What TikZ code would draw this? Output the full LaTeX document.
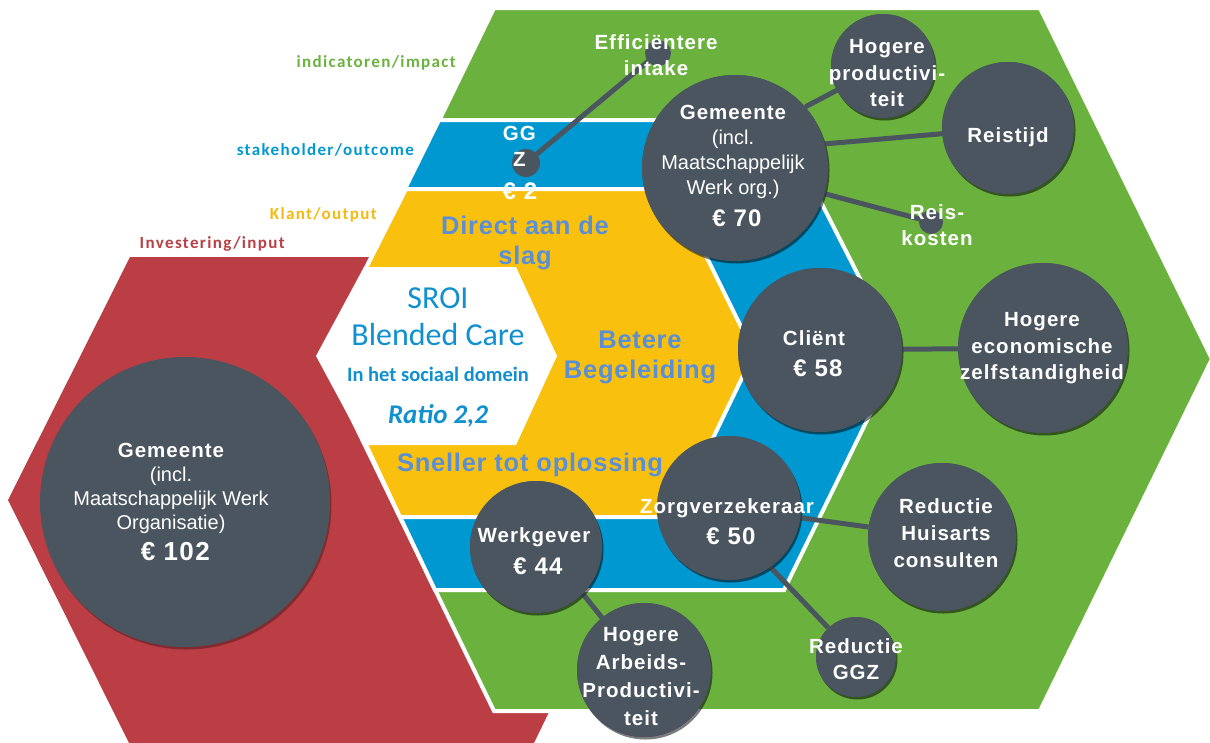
\documentclass[tikz,border=0pt]{standalone}
\usepackage{fontspec}
\setmainfont{Liberation Sans}
\usetikzlibrary{shadows}
\newfontfamily\lsr{Liberation Sans}
\newfontfamily\lsb{Liberation Sans}[LetterSpace=5]
\newfontfamily\lsm{Liberation Sans}[LetterSpace=3]
\newfontfamily\carl{Carlito}
\newfontfamily\carls{Carlito}[LetterSpace=8]
\definecolor{grn}{HTML}{6AB23D}
\definecolor{blu}{HTML}{0098D1}
\definecolor{yel}{HTML}{F9C10E}
\definecolor{yellab}{HTML}{F5B914}
\definecolor{rd}{HTML}{BA3E44}
\definecolor{slate}{HTML}{4A5560}
\definecolor{txtblue}{HTML}{5A8FD8}
\definecolor{sroiblue}{HTML}{1190D0}
\tikzset{
  layer/.style={draw=white, line width=4pt, line join=miter},
  circ/.style={circle, fill=slate, inner sep=0pt, draw=none,
    drop shadow={shadow xshift=1.5pt, shadow yshift=-2.5pt, opacity=0.3, fill=black}},
  dotc/.style={circle, fill=slate, inner sep=0pt, minimum size=#1},
  conn/.style={draw=slate, line width=5pt},
  ctext/.style={text=white, align=center, inner sep=0pt, font=\lsr\fontsize{20}{25}\selectfont},
  lbl/.style={inner sep=0pt, anchor=base east, font=\carls\bfseries\fontsize{17}{20}\selectfont},
  midtext/.style={text=txtblue, align=center, inner sep=0pt, font=\lsm\bfseries\fontsize{25.5}{30}\selectfont},
  sroi/.style={text=sroiblue, inner sep=0pt, anchor=base}
}
\newcommand{\bb}[1][20.5]{\lsb\bfseries\fontsize{#1}{#1}\selectfont}
\begin{document}
\begin{tikzpicture}[x=1pt,y=-1pt]
\useasboundingbox (0,0) rectangle (1210,742);
% layers
\fill[rd] (130,257) -- (533,257) -- (652,500) -- (533,745) -- (130,745) -- (8,500) -- cycle;
\filldraw[fill=grn, layer] (494,8) -- (1040,8) -- (1212,359) -- (1040,711) -- (494,711) -- (323,359) -- cycle;
\filldraw[fill=blu, layer] (439,120) -- (779,120) -- (899,355) -- (784,590) -- (435,590) -- (323,355) -- cycle;
\filldraw[fill=yel, layer] (406,189) -- (673,189) -- (754,353) -- (675,517) -- (400,517) -- (323,353) -- cycle;
\fill[white] (316,356) -- (364,267) -- (516,267) -- (557,356) -- (516,445) -- (364,445) -- cycle;
% layer labels
\node[lbl, text=grn] (lind) at (456,67) {indicatoren/impact};
\node[lbl, text=blu] (lsta) at (414,155) {stakeholder/outcome};
\node[lbl, text=yellab] (lkla) at (377,219) {Klant/output};
\node[lbl, text=rd] (linv) at (285,248) {Investering/input};
% middle texts
\node[midtext] (direct) at (525,242.5) {Direct aan de\\slag};
\node[midtext] (betere) at (640,357.6) {Betere\\Begeleiding};
\node[midtext] (sneller) at (530,464.5) {Sneller tot oplossing};
% SROI
\node[sroi, font=\carl\fontsize{32}{32}\selectfont] (sroit) at (438,308.5) {SROI};
\node[sroi, font=\carl\fontsize{32}{32}\selectfont] (blended) at (438,345.5) {Blended Care};
\node[sroi, font=\carl\bfseries\fontsize{20.5}{20.5}\selectfont] (domein) at (438,381.5) {In het sociaal domein};
\node[sroi, font=\carl\bfseries\itshape\fontsize{27}{27}\selectfont] (ratio) at (438,423.5) {Ratio 2,2};
% circles (shapes)
\node[circ, minimum size=290pt] (gm102) at (185,502) {};
\node[circ, minimum size=186pt] (g70) at (735,168) {};
\node[circ, minimum size=104pt] (hp) at (883,66) {};
\node[circ, minimum size=132pt] (reis) at (1008,128) {};
\node[circ, minimum size=164pt] (cli) at (820,350) {};
\node[circ, minimum size=170pt] (hez) at (1043,348) {};
\node[circ, minimum size=144pt] (zorg) at (729,508) {};
\node[circ, minimum size=148pt] (rhc) at (942,537) {};
\node[circ, minimum size=80pt] (rggz) at (856,657) {};
\node[circ, minimum size=132pt] (werk) at (536,547) {};
\node[circ, minimum size=134pt] (hap) at (644,670) {};
% connectors
\coordinate (deffc) at (658,53);
\coordinate (dggzc) at (526,163);
\coordinate (drkc) at (931,222);
\draw[conn] (dggzc) -- (deffc);
\draw[conn] (g70.41) -- (hp);
\draw[conn] (g70.15) -- (reis);
\draw[conn] (g70.-16) -- (drkc);
\draw[conn] (cli) -- (hez);
\draw[conn] (zorg) -- (rhc);
\draw[conn] (zorg.-55) -- (rggz);
\draw[conn] (werk.-45) -- (hap);
% redraw circles over connectors
\node[circ, minimum size=186pt] (g70b) at (735,168) {};
\node[circ, minimum size=104pt] (hpb) at (883,66) {};
\node[circ, minimum size=132pt] (reisb) at (1008,128) {};
\node[circ, minimum size=164pt] (clib) at (820,350) {};
\node[circ, minimum size=170pt] (hezb) at (1043,348) {};
\node[circ, minimum size=144pt] (zorgb) at (729,508) {};
\node[circ, minimum size=148pt] (rhcb) at (942,537) {};
\node[circ, minimum size=80pt] (rggzb) at (856,657) {};
\node[circ, minimum size=132pt] (werkb) at (536,547) {};
\node[circ, minimum size=134pt] (hapb) at (644,670) {};
\node[dotc=26pt] (deff) at (deffc) {};
\node[dotc=28pt] (dggz) at (dggzc) {};
\node[dotc=24pt] (drk) at (drkc) {};
% circle texts
\node[ctext] (t102) at (171,502) {{\bb Gemeente}\\[-1pt](incl.\\[-1pt]Maatschappelijk Werk\\[-1pt]Organisatie)\\[6pt]{\bb[26] € 102}};
\node[ctext] (t70) at (733,166) {{\bb Gemeente}\\(incl.\\Maatschappelijk\\Werk org.)\\[7pt]{\bb[24] € 70}};
\node[ctext] (thp) at (887,73.5) {{\bb Hogere}\\[1.5pt]{\bb productivi-}\\[1.5pt]{\bb teit}};
\node[ctext] (treis) at (1008,137) {{\bb Reistijd}};
\node[ctext] (tcli) at (814,354) {{\bb Cliënt}\\[6pt]{\bb[24] € 58}};
\node[ctext] (thez) at (1042,348.5) {{\bb Hogere}\\[1.5pt]{\bb economische}\\[1.5pt]{\bb zelfstandigheid}};
\node[ctext] (tzorg) at (727,522) {{\bb Zorgverzekeraar}\\[6pt]{\bb[24] € 50}};
\node[ctext] (trhc) at (946,533) {{\bb Reductie}\\[2pt]{\bb Huisarts}\\[2pt]{\bb consulten}};
\node[ctext] (trggz) at (856,659) {{\bb Reductie}\\[1pt]{\bb GGZ}};
\node[ctext] (twerk) at (534,551) {{\bb Werkgever}\\[7pt]{\bb[24] € 44}};
\node[ctext] (that) at (641,676.5) {{\bb Hogere}\\[2.7pt]{\bb Arbeids-}\\[2.7pt]{\bb Productivi-}\\[2.7pt]{\bb teit}};
\node[ctext] (teff) at (656,55) {{\bb Efficiëntere}\\[1pt]{\bb intake}};
\node[ctext] (tggz) at (516,162.5) {{\bb[20.5] GG}\\[1pt]{\bb[20.5] Z}\\[8pt]{\bb[24] € 2}};
\node[ctext] (trk) at (937,225) {{\bb Reis-}\\[1pt]{\bb kosten}};
\end{tikzpicture}
\end{document}
